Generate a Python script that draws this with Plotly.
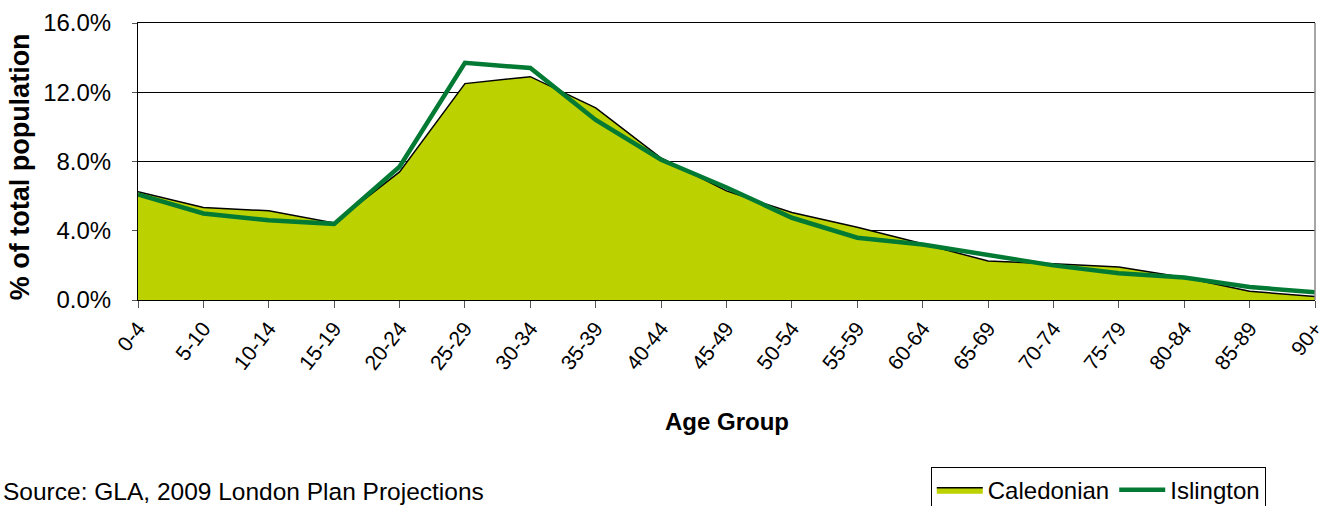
import plotly.graph_objects as go

# age groups (x categories)
age_groups = ['0-4', '5-10', '10-14', '15-19', '20-24', '25-29', '30-34', '35-39',
              '40-44', '45-49', '50-54', '55-59', '60-64', '65-69', '70-74',
              '75-79', '80-84', '85-89', '90+']

# % of total population
caledonian = [6.25, 5.35, 5.15, 4.45, 7.4, 12.5, 12.9, 11.1, 8.2, 6.3, 5.05,
              4.2, 3.25, 2.25, 2.1, 1.9, 1.3, 0.5, 0.2]
islington = [6.1, 5.0, 4.6, 4.4, 7.7, 13.7, 13.4, 10.4, 8.1, 6.5, 4.75,
             3.6, 3.2, 2.6, 2.0, 1.55, 1.3, 0.75, 0.45]

y_ticks = [0, 4, 8, 12, 16]

font = 'Liberation Sans, Arial, sans-serif'

fig = go.Figure()

fig.add_trace(go.Scatter(
    x=age_groups, y=caledonian, name='Caledonian',
    mode='lines', fill='tozeroy', fillcolor='#BCD200',
    line=dict(color='black', width=1.5)
))
fig.add_trace(go.Scatter(
    x=age_groups, y=islington, name='Islington',
    mode='lines', line=dict(color='#037A33', width=4.5)
))

fig.update_layout(
    width=1331, height=506,
    margin=dict(l=138, r=16, t=23, b=206, autoexpand=False),
    plot_bgcolor='white', paper_bgcolor='white',
    font=dict(family=font, color='black'),
    showlegend=True,
    legend=dict(
        orientation='h', xref='container', yref='container',
        x=0.951, xanchor='right', y=0.078, yanchor='top',
        bordercolor='black', borderwidth=1,
        font=dict(size=24), itemwidth=46, tracegroupgap=0,
    ),
    xaxis=dict(
        type='category', range=[0, len(age_groups) - 1], automargin=False,
        showgrid=False, showline=True, linecolor='black', linewidth=1,
        mirror=True, ticks='outside', ticklen=7, tickcolor='#555',
        tickangle=-52, tickfont=dict(size=21),
    ),
    yaxis=dict(
        range=[0, 16], tickvals=y_ticks, automargin=False,
        ticktext=[f'{v:.1f}%' for v in y_ticks],
        showgrid=True, gridcolor='black', gridwidth=1,
        showline=True, linecolor='black', linewidth=1,
        ticks='outside', ticklen=5, tickcolor='#555',
        ticklabelstandoff=16,
        tickfont=dict(size=24), zeroline=False,
    ),
)

# right border of plot area (grey, like the original)
fig.add_shape(type='line', xref='paper', yref='paper', x0=1, x1=1, y0=0, y1=1,
              line=dict(color='#888', width=1.5))

fig.add_annotation(text='<b>Age Group</b>', xref='paper', yref='paper',
                   x=0.5, y=-0.44, showarrow=False, font=dict(size=24),
                   xanchor='center', yanchor='middle')
fig.add_annotation(text='<b>% of total population</b>', xref='paper', yref='paper',
                   x=-0.100, y=0.48, showarrow=False, textangle=-90,
                   font=dict(size=27), xanchor='center', yanchor='middle')
fig.add_annotation(text='Source: GLA, 2009 London Plan Projections',
                   xref='paper', yref='paper', x=-0.1165, y=-0.69,
                   showarrow=False, font=dict(size=24.5),
                   xanchor='left', yanchor='middle')

# page has a default 8px body margin; drop it so the chart sits at 0,0
fig.write_html('out.html', config={'displayModeBar': False},
               post_script="document.body.style.margin='0';")
